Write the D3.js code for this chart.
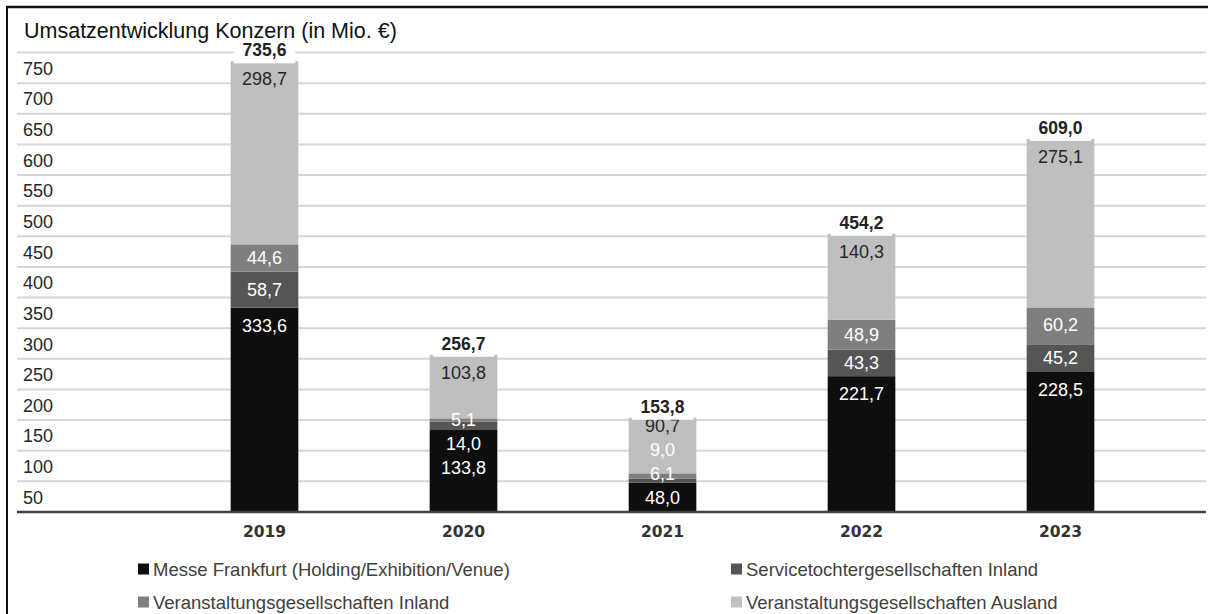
<!DOCTYPE html>
<html>
<head>
<meta charset="utf-8">
<script src="https://cdn.jsdelivr.net/npm/d3@7"></script>
<style>
  html, body { margin: 0; padding: 0; background: #fff; }
  svg { display: block; }
</style>
</head>
<body>
<svg id="chart" width="1208" height="614"></svg>
<script>
// ---- data ----
const years = ["2019", "2020", "2021", "2022", "2023"];
const seriesNames = [
  "Messe Frankfurt (Holding/Exhibition/Venue)",
  "Servicetochtergesellschaften Inland",
  "Veranstaltungsgesellschaften Inland",
  "Veranstaltungsgesellschaften Ausland"
];
const messeFrankfurt = [333.6, 133.8, 48.0, 221.7, 228.5];
const serviceInland = [58.7, 14.0, 6.1, 43.3, 45.2];
const veranstInland = [44.6, 5.1, 9.0, 48.9, 60.2];
const veranstAusland = [298.7, 103.8, 90.7, 140.3, 275.1];
const totals = [735.6, 256.7, 153.8, 454.2, 609.0];
const yTicks = [50, 100, 150, 200, 250, 300, 350, 400, 450, 500, 550, 600, 650, 700, 750];
const title = "Umsatzentwicklung Konzern (in Mio. €)";

const colors = ["#0e0e0e", "#555555", "#7f7f7f", "#bfbfbf"];
const labelColors = ["#ffffff", "#ffffff", "#ffffff", "#262626"];
const fmt = v => v.toFixed(1).replace(".", ",");

const svg = d3.select("#chart");
const W = 1208, H = 614;

// frame
svg.append("line").attr("x1", 7).attr("x2", 7).attr("y1", 6).attr("y2", H).attr("stroke", "#111").attr("stroke-width", 2);
svg.append("line").attr("x1", 6).attr("x2", W).attr("y1", 7).attr("y2", 7).attr("stroke", "#111").attr("stroke-width", 2.5);

const y = d3.scaleLinear().domain([0, 750]).range([512, 52.5]);
const x = d3.scaleBand().domain(years).range([165, 1160]).paddingInner(0.66).paddingOuter(0.33);

// gridlines
svg.append("g").selectAll("line").data(yTicks).join("line")
  .attr("x1", 17).attr("x2", W - 2)
  .attr("y1", d => y(d)).attr("y2", d => y(d))
  .attr("stroke", "#d6d6d6").attr("stroke-width", 2);

// y labels (sit below their gridline)
svg.append("g").selectAll("text").data(yTicks).join("text")
  .attr("x", 23).attr("y", d => (y(d) + y(d - 50)) / 2 + 1)
  .attr("dominant-baseline", "central")
  .attr("font-family", "Liberation Sans, Arial, sans-serif")
  .attr("font-size", 18).attr("fill", "#262626")
  .text(d => d);

// title
svg.append("text").attr("x", 24).attr("y", 31)
  .attr("dominant-baseline", "central")
  .attr("font-family", "Liberation Sans, Arial, sans-serif")
  .attr("font-size", 21.5).attr("fill", "#111")
  .text(title);

// stack
const table = years.map((yr, i) => ({
  year: yr, s0: messeFrankfurt[i], s1: serviceInland[i], s2: veranstInland[i], s3: veranstAusland[i]
}));
const keys = ["s0", "s1", "s2", "s3"];
const stacked = d3.stack().keys(keys)(table);

const gBars = svg.append("g");
stacked.forEach((layer, si) => {
  gBars.selectAll(null).data(layer).join("rect")
    .attr("x", d => x(d.data.year))
    .attr("width", x.bandwidth())
    .attr("y", d => y(d[1]))
    .attr("height", d => y(d[0]) - y(d[1]))
    .attr("fill", colors[si]);
});

// axis baseline
svg.append("line").attr("x1", 17).attr("x2", W - 2).attr("y1", y(0)).attr("y2", y(0))
  .attr("stroke", "#404040").attr("stroke-width", 2.5);

// segment labels with simple collision handling
const gap = 24;
years.forEach((yr, i) => {
  const labs = stacked.map((layer, si) => {
    const d = layer[i];
    const top = y(d[1]), bot = y(d[0]);
    const h = bot - top;
    return { si, v: d[1] - d[0], want: top + Math.min(h / 2, 18) };
  });
  // top-down pass (from last series to first)
  const order = labs.slice().reverse();
  for (let k = 0; k < order.length; k++) {
    order[k].pos = order[k].want;
    if (k > 0) order[k].pos = Math.max(order[k].pos, order[k - 1].pos + gap);
  }
  // bottom-up pass with limit near the axis
  const limit = y(0) - 14;
  for (let k = order.length - 1; k >= 0; k--) {
    const lim = k === order.length - 1 ? limit : order[k + 1].pos - gap;
    order[k].pos = Math.min(order[k].pos, lim);
  }
  labs.forEach(l => {
    svg.append("text")
      .attr("x", x(yr) + x.bandwidth() / 2)
      .attr("y", l.pos)
      .attr("text-anchor", "middle").attr("dominant-baseline", "central")
      .attr("font-family", "Liberation Sans, Arial, sans-serif")
      .attr("font-size", 18).attr("fill", labelColors[l.si])
      .text(fmt(l.v));
  });
  // total label with white box
  const top = y(totals[i]);
  svg.append("rect")
    .attr("x", x(yr) + 3).attr("width", x.bandwidth() - 6)
    .attr("y", top - 20).attr("height", 22)
    .attr("fill", "#fff");
  svg.append("text")
    .attr("x", x(yr) + x.bandwidth() / 2)
    .attr("y", top - 11)
    .attr("text-anchor", "middle").attr("dominant-baseline", "central")
    .attr("font-family", "Liberation Sans, Arial, sans-serif")
    .attr("font-weight", "bold")
    .attr("font-size", 17.5).attr("fill", "#222")
    .text(fmt(totals[i]));
});

// x labels
svg.append("g").selectAll("text").data(years).join("text")
  .attr("x", d => x(d) + x.bandwidth() / 2)
  .attr("y", 532)
  .attr("text-anchor", "middle").attr("dominant-baseline", "central")
  .attr("font-family", "DejaVu Sans, Verdana, sans-serif")
  .attr("font-weight", "bold").attr("font-size", 15.5)
  .attr("fill", "#333")
  .text(d => d);

// legend
const legendPos = [
  { x: 138, y: 569 }, // Messe
  { x: 731, y: 569 }, // Service
  { x: 138, y: 602 }, // Veranst. Inland
  { x: 731, y: 602 }  // Veranst. Ausland
];
seriesNames.forEach((name, si) => {
  const p = legendPos[si];
  svg.append("rect").attr("x", p.x).attr("y", p.y - 5.5).attr("width", 11).attr("height", 11).attr("fill", colors[si]);
  svg.append("text").attr("x", p.x + 15).attr("y", p.y)
    .attr("dominant-baseline", "central")
    .attr("font-family", "Liberation Sans, Arial, sans-serif")
    .attr("font-size", 18.5).attr("fill", "#404040")
    .text(name);
});
</script>
</body>
</html>
